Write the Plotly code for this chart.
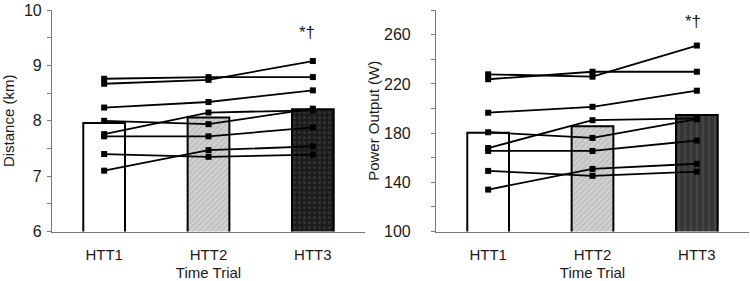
import plotly.graph_objects as go

trials = ["HTT1", "HTT2", "HTT3"]

# Distance (km) per subject across HTT1..HTT3
dist_subjects = [
    [8.76, 8.79, 8.79],
    [8.67, 8.74, 9.08],
    [8.24, 8.34, 8.55],
    [8.00, 7.94, 8.22],
    [7.76, 8.15, 8.19],
    [7.72, 7.72, 7.88],
    [7.40, 7.35, 7.39],
    [7.10, 7.47, 7.54],
]
dist_means = [7.96, 8.06, 8.21]

# Power output (W) per subject across HTT1..HTT3
power_subjects = [
    [227.8, 225.9, 251.2],
    [223.8, 229.9, 229.9],
    [196.6, 201.4, 214.5],
    [180.7, 176.1, 191.3],
    [167.9, 190.5, 192.0],
    [165.5, 165.5, 174.0],
    [149.3, 145.3, 148.7],
    [134.1, 150.9, 155.1],
]
power_means = [180.3, 185.6, 194.8]

dist_ticks = [6, 7, 8, 9, 10]
dist_minor = [6.5, 7.5, 8.5, 9.5]
power_ticks = [100, 140, 180, 220, 260]
power_minor = [120, 160, 200, 240, 280]

sig_label = "*†"

FONT = "Liberation Sans, Arial, sans-serif"

fig = go.Figure()

bar_styles_left = [
    dict(color="white", pattern=dict(shape="")),
    dict(color="#cdcdcd", pattern=dict(shape="/", fgcolor="#969696", bgcolor="#d0d0d0", size=4, solidity=0.25)),
    dict(color="#1c1c1c", pattern=dict(shape=".", fgcolor="#4a4a4a", bgcolor="#1c1c1c", size=5, solidity=0.3)),
]
bar_styles_right = [
    dict(color="white", pattern=dict(shape="")),
    dict(color="#cdcdcd", pattern=dict(shape="/", fgcolor="#969696", bgcolor="#d0d0d0", size=4, solidity=0.25)),
    dict(color="#3a3a3a", pattern=dict(shape="|", fgcolor="#555555", bgcolor="#363636", size=6, solidity=0.3)),
]

for xa, ya, means, styles in [("x", "y", dist_means, bar_styles_left),
                              ("x2", "y2", power_means, bar_styles_right)]:
    for i, t in enumerate(trials):
        st = styles[i]
        fig.add_trace(go.Bar(
            x=[t], y=[means[i]], xaxis=xa, yaxis=ya, width=0.4,
            marker=dict(color=st["color"], pattern=st["pattern"],
                        line=dict(color="black", width=2)),
            showlegend=False, hoverinfo="skip",
        ))

for xa, ya, subjects in [("x", "y", dist_subjects), ("x2", "y2", power_subjects)]:
    for s in subjects:
        fig.add_trace(go.Scatter(
            x=trials, y=s, xaxis=xa, yaxis=ya, mode="lines+markers",
            line=dict(color="black", width=1.8),
            marker=dict(symbol="square", size=6, color="black"),
            showlegend=False, cliponaxis=False,
        ))

axis_font = dict(family=FONT, size=15, color="#1a1a1a")
ytick_font = dict(family=FONT, size=16, color="#1a1a1a")

common_x = dict(type="category", range=[-0.5, 2.5], showline=True, linecolor="#777777",
                linewidth=1, ticks="", showgrid=False, zeroline=False, automargin=False,
                tickfont=axis_font, ticklabelstandoff=9,
                title=dict(text="Time Trial", font=axis_font, standoff=6))
common_y = dict(showline=True, linecolor="#777777", linewidth=1, ticks="outside",
                ticklen=4, tickcolor="#777777", showgrid=False, zeroline=False,
                automargin=False, tickfont=ytick_font, ticklabeloverflow="allow")
inner_y = dict(showline=False, ticks="inside", ticklen=3, tickcolor="#777777",
               showticklabels=False, showgrid=False, zeroline=False, automargin=False)

YDOM = [0.176, 0.964]

fig.update_layout(
    width=750, height=281,
    margin=dict(l=0, r=0, t=0, b=0),
    paper_bgcolor="white", plot_bgcolor="white",
    barmode="overlay",
    font=dict(family=FONT, color="#1a1a1a"),
    xaxis=dict(domain=[0.0693, 0.4867], anchor="y", **common_x),
    xaxis2=dict(domain=[0.5813, 0.9987], anchor="y2", **common_x),
    yaxis=dict(domain=YDOM, anchor="x", range=[6, 10], tickvals=dist_ticks, ticklabelstandoff=2,
               minor=dict(tickvals=dist_minor, ticks="outside", ticklen=4, tickcolor="#777777"),
               title=dict(text="Distance (km)", font=axis_font, standoff=14), **common_y),
    yaxis2=dict(domain=YDOM, anchor="x2", range=[100, 280], tickvals=power_ticks,
                ticklabelstandoff=17,
                minor=dict(tickvals=power_minor, ticks="outside", ticklen=4, tickcolor="#777777"),
                title=dict(text="Power Output (W)", font=axis_font, standoff=0), **common_y),
    yaxis3=dict(overlaying="y", anchor="x", range=[6, 10], tickvals=dist_ticks,
                minor=dict(tickvals=dist_minor, ticks="inside", ticklen=3, tickcolor="#777777"),
                **inner_y),
    yaxis4=dict(overlaying="y2", anchor="x2", range=[100, 280], tickvals=power_ticks,
                minor=dict(tickvals=power_minor, ticks="inside", ticklen=3, tickcolor="#777777"),
                **inner_y),
)

fig.add_annotation(x="HTT3", y=9.59, xref="x", yref="y", text=sig_label, showarrow=False,
                   xshift=-6, font=dict(family=FONT, size=17, color="#1a1a1a"))
fig.add_annotation(x="HTT3", y=270.5, xref="x2", yref="y2", text=sig_label, showarrow=False,
                   xshift=-4, font=dict(family=FONT, size=17, color="#1a1a1a"))

fig.write_html("out.html", config={"displayModeBar": False},
               post_script="document.body.style.margin='0';document.body.style.padding='0';")
